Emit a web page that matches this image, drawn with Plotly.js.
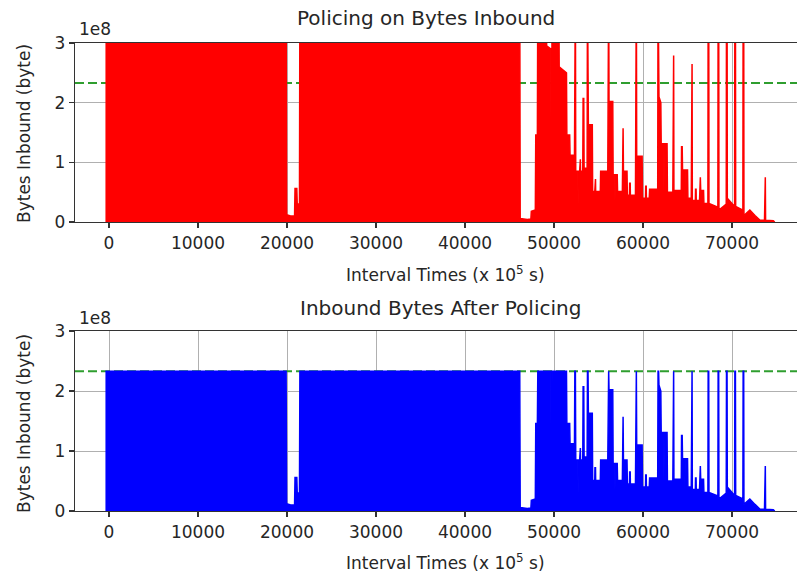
<!DOCTYPE html>
<html>
<head>
<meta charset="utf-8">
<script src="https://cdn.plot.ly/plotly-3.0.1.min.js"></script>
<style>
  html, body { margin: 0; padding: 0; background: #fff; overflow: hidden; }
  #chart { width: 797px; height: 580px; }
</style>
</head>
<body>
<div id="chart"></div>
<script>
// ---- Data ----
// Interval times (x 10^5 s)
var intervalTimes = [
  -400, 19900, 19960, 20400, 20850, 20900, 21100, 21150, 21400, 21450,
  46150, 46200, 47000, 47400, 47450, 47900, 47950, 48130, 48180, 49130,
  49170, 49640, 49680, 49740, 49780, 50250, 50280, 50320, 50540, 50580,
  51400, 51440, 51760, 51800, 52300, 52340, 52400, 52440, 52680, 52700,
  52740, 52880, 52900, 52960, 52980, 53230, 53270, 53340, 53380, 53720,
  53760, 53820, 53860, 54300, 54340, 54580, 54600, 54660, 54680, 54980,
  55000, 55040, 55200, 55240, 56040, 56080, 56140, 56180, 56600, 56640,
  56830, 56850, 56890, 57100, 57140, 57680, 57700, 57760, 57800, 58200,
  58240, 58480, 58500, 58560, 58580, 58880, 58900, 58940, 59150, 59190,
  59250, 59290, 59900, 59940, 60280, 60300, 60360, 60380, 60700, 60740,
  61650, 61690, 61750, 61790, 62000, 62040, 62330, 62350, 62390, 62700,
  62740, 63350, 63380, 63440, 63470, 64300, 64330, 64400, 64440, 64680,
  64700, 64740, 65000, 65040, 65420, 65450, 65510, 65540, 65880, 65900,
  65960, 65980, 66080, 66100, 66140, 66350, 66380, 66440, 66480, 66800,
  66840, 67290, 67320, 67380, 67410, 68410, 68440, 68500, 68530, 69350,
  69380, 69440, 69470, 70290, 70320, 70380, 70410, 71220, 71250, 71310,
  71340, 72000, 72580, 73150, 73650, 73680, 73740, 73770, 74640, 74800
];
// Bytes inbound before policing (bytes); 4.0e8 marks values above the 3e8 axis top
var bytesInbound = [
  4.0e8, 4.0e8, 0.12e8, 0.10e8, 0.10e8, 0.56e8, 0.56e8, 0.30e8, 0.30e8, 4.0e8,
  4.0e8, 0.06e8, 0.04e8, 0.05e8, 0.18e8, 0.20e8, 1.46e8, 1.46e8, 4.0e8, 4.0e8,
  2.95e8, 2.90e8, 0.45e8, 0.45e8, 4.0e8, 4.0e8, 1.00e8, 4.0e8, 4.0e8, 2.60e8,
  2.50e8, 1.46e8, 1.46e8, 1.12e8, 1.12e8, 4.0e8, 4.0e8, 0.85e8, 0.85e8, 0.30e8,
  0.85e8, 0.85e8, 1.05e8, 1.05e8, 0.85e8, 0.85e8, 2.07e8, 2.07e8, 0.90e8, 0.90e8,
  4.0e8, 4.0e8, 1.63e8, 1.63e8, 0.51e8, 0.51e8, 0.72e8, 0.72e8, 0.51e8, 0.51e8,
  0.25e8, 0.51e8, 0.51e8, 0.85e8, 0.85e8, 4.0e8, 4.0e8, 2.02e8, 2.02e8, 0.79e8,
  0.79e8, 0.35e8, 0.79e8, 0.79e8, 0.51e8, 0.51e8, 1.57e8, 1.57e8, 0.85e8, 0.85e8,
  0.45e8, 0.45e8, 0.65e8, 0.65e8, 0.45e8, 0.45e8, 0.20e8, 0.45e8, 0.45e8, 4.0e8,
  4.0e8, 1.10e8, 1.10e8, 0.40e8, 0.40e8, 0.60e8, 0.60e8, 0.40e8, 0.40e8, 0.55e8,
  0.55e8, 4.0e8, 4.0e8, 2.10e8, 2.00e8, 1.31e8, 1.31e8, 0.50e8, 1.31e8, 1.31e8,
  0.50e8, 0.50e8, 2.79e8, 2.79e8, 0.53e8, 0.53e8, 1.26e8, 1.26e8, 0.87e8, 0.87e8,
  0.35e8, 0.87e8, 0.87e8, 0.40e8, 0.40e8, 2.65e8, 2.65e8, 0.36e8, 0.36e8, 0.55e8,
  0.55e8, 0.36e8, 0.36e8, 0.15e8, 0.36e8, 0.36e8, 0.75e8, 0.75e8, 0.53e8, 0.53e8,
  0.31e8, 0.31e8, 4.0e8, 4.0e8, 0.31e8, 0.25e8, 4.0e8, 4.0e8, 0.20e8, 0.30e8,
  4.0e8, 4.0e8, 0.40e8, 0.26e8, 4.0e8, 4.0e8, 0.26e8, 0.20e8, 4.0e8, 4.0e8,
  0.11e8, 0.20e8, 0.11e8, 0.03e8, 0.03e8, 0.75e8, 0.75e8, 0.03e8, 0.02e8, 0.0
];
// Bytes inbound after policing (bytes), capped at the policing limit
var bytesPoliced = [
  2.33e8, 2.33e8, 0.12e8, 0.10e8, 0.10e8, 0.56e8, 0.56e8, 0.30e8, 0.30e8, 2.33e8,
  2.33e8, 0.06e8, 0.04e8, 0.05e8, 0.18e8, 0.20e8, 1.46e8, 1.46e8, 2.33e8, 2.33e8,
  2.33e8, 2.33e8, 0.45e8, 0.45e8, 2.33e8, 2.33e8, 1.00e8, 2.33e8, 2.33e8, 2.33e8,
  2.33e8, 1.46e8, 1.46e8, 1.12e8, 1.12e8, 2.33e8, 2.33e8, 0.85e8, 0.85e8, 0.30e8,
  0.85e8, 0.85e8, 1.05e8, 1.05e8, 0.85e8, 0.85e8, 2.07e8, 2.07e8, 0.90e8, 0.90e8,
  2.33e8, 2.33e8, 1.63e8, 1.63e8, 0.51e8, 0.51e8, 0.72e8, 0.72e8, 0.51e8, 0.51e8,
  0.25e8, 0.51e8, 0.51e8, 0.85e8, 0.85e8, 2.33e8, 2.33e8, 2.02e8, 2.02e8, 0.79e8,
  0.79e8, 0.35e8, 0.79e8, 0.79e8, 0.51e8, 0.51e8, 1.57e8, 1.57e8, 0.85e8, 0.85e8,
  0.45e8, 0.45e8, 0.65e8, 0.65e8, 0.45e8, 0.45e8, 0.20e8, 0.45e8, 0.45e8, 2.33e8,
  2.33e8, 1.10e8, 1.10e8, 0.40e8, 0.40e8, 0.60e8, 0.60e8, 0.40e8, 0.40e8, 0.55e8,
  0.55e8, 2.33e8, 2.33e8, 2.10e8, 2.00e8, 1.31e8, 1.31e8, 0.50e8, 1.31e8, 1.31e8,
  0.50e8, 0.50e8, 2.33e8, 2.33e8, 0.53e8, 0.53e8, 1.26e8, 1.26e8, 0.87e8, 0.87e8,
  0.35e8, 0.87e8, 0.87e8, 0.40e8, 0.40e8, 2.33e8, 2.33e8, 0.36e8, 0.36e8, 0.55e8,
  0.55e8, 0.36e8, 0.36e8, 0.15e8, 0.36e8, 0.36e8, 0.75e8, 0.75e8, 0.53e8, 0.53e8,
  0.31e8, 0.31e8, 2.33e8, 2.33e8, 0.31e8, 0.25e8, 2.33e8, 2.33e8, 0.20e8, 0.30e8,
  2.33e8, 2.33e8, 0.40e8, 0.26e8, 2.33e8, 2.33e8, 0.26e8, 0.20e8, 2.33e8, 2.33e8,
  0.11e8, 0.20e8, 0.11e8, 0.03e8, 0.03e8, 0.75e8, 0.75e8, 0.03e8, 0.02e8, 0.0
];
var policingLimit = 2.33e8;
var xRange = [-3820, 77300];
var xTickVals = [0, 10000, 20000, 30000, 40000, 50000, 60000, 70000];
var xTickText = ['0', '10000', '20000', '30000', '40000', '50000', '60000', '70000'];
var yTickVals = [0, 1e8, 2e8, 3e8];
var yTickText = ['0', '1', '2', '3'];
var titles = ['Policing on Bytes Inbound', 'Inbound Bytes After Policing'];
var xLabel = 'Interval Times (x 10<sup>5</sup> s)';
var yLabel = 'Bytes Inbound (byte)';
var offsetLabel = '1e8';

// ---- Drawing ----
var W = 797, H = 580;
function px(x) { return x / W; }
function py(y) { return 1 - y / H; }
var FONT = 'DejaVu Sans, sans-serif';
var TXT = '#262626';
var green = '#2f9e2f';

var traces = [
  { x: xRange, y: [policingLimit, policingLimit], xaxis: 'x', yaxis: 'y', mode: 'lines',
    line: { color: green, width: 2, dash: '9px,4px' }, hoverinfo: 'skip' },
  { x: intervalTimes, y: bytesInbound, xaxis: 'x', yaxis: 'y', mode: 'lines', fill: 'tozeroy',
    line: { color: '#ff0000', width: 1.5 }, fillcolor: '#ff0000' },
  { x: xRange, y: [policingLimit, policingLimit], xaxis: 'x2', yaxis: 'y2', mode: 'lines',
    line: { color: green, width: 2, dash: '9px,4px' }, hoverinfo: 'skip' },
  { x: intervalTimes, y: bytesPoliced, xaxis: 'x2', yaxis: 'y2', mode: 'lines', fill: 'tozeroy',
    line: { color: '#0000ff', width: 1.5 }, fillcolor: '#0000ff' }
];

function xa(anchor) {
  return {
    domain: [px(75), 1], range: xRange, anchor: anchor,
    tickmode: 'array', tickvals: xTickVals, ticktext: xTickText,
    showgrid: true, gridcolor: '#b0b0b0', gridwidth: 1,
    showline: true, linecolor: '#333', linewidth: 1.3, mirror: true,
    ticks: 'outside', ticklen: 5, tickwidth: 1.2, tickcolor: '#333',
    tickfont: { family: FONT, size: 17, color: TXT }, zeroline: false, automargin: false
  };
}
function ya(anchor, top, bottom) {
  return {
    domain: [py(bottom), py(top)], range: [0, 3e8], anchor: anchor,
    tickmode: 'array', tickvals: yTickVals, ticktext: yTickText,
    showgrid: true, gridcolor: '#b0b0b0', gridwidth: 1,
    showline: true, linecolor: '#333', linewidth: 1.3, mirror: false,
    ticks: 'outside', ticklen: 5, tickwidth: 1.2, tickcolor: '#333',
    tickfont: { family: FONT, size: 17, color: TXT }, zeroline: false, automargin: false
  };
}

function ann(text, x, y, size, angle) {
  return { text: text, xref: 'paper', yref: 'paper', x: px(x), y: py(y),
    xanchor: 'center', yanchor: 'middle', showarrow: false, textangle: angle || 0,
    font: { family: FONT, size: size, color: TXT } };
}

var layout = {
  width: W, height: H,
  margin: { l: 0, r: 0, t: 0, b: 0 },
  paper_bgcolor: '#fff', plot_bgcolor: '#fff',
  showlegend: false,
  xaxis: xa('y'), yaxis: ya('x', 43, 222),
  xaxis2: xa('y2'), yaxis2: ya('x2', 331, 511),
  annotations: [
    ann(titles[0], 426, 18, 20),
    ann(titles[1], 441, 308, 20),
    ann(xLabel, 445, 274, 17),
    ann(xLabel, 445, 562, 17),
    ann(yLabel, 24, 134, 17, -90),
    ann(yLabel, 24, 424, 17, -90),
    ann(offsetLabel, 95, 29, 17),
    ann(offsetLabel, 95, 318, 17)
  ]
};

Plotly.newPlot('chart', traces, layout, { staticPlot: true, displayModeBar: false });
</script>
</body>
</html>
